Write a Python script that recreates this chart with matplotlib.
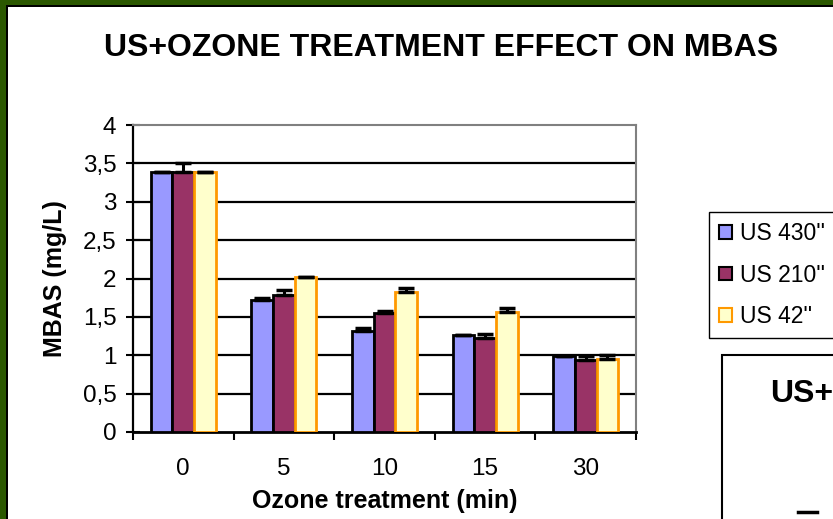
import matplotlib.pyplot as plt
import numpy as np
from matplotlib.patches import Rectangle, Patch
from matplotlib.lines import Line2D

plt.rcParams['font.family'] = ['Liberation Sans', 'DejaVu Sans']

categories = ['0', '5', '10', '15', '30']
series = ["US 430''", "US 210''", "US 42''"]
us430 = [3.39, 1.72, 1.32, 1.26, 0.99]
us210 = [3.39, 1.78, 1.55, 1.23, 0.94]
us42 = [3.39, 2.02, 1.82, 1.56, 0.95]
err430 = [0.0, 0.03, 0.03, 0.0, 0.0]
err210 = [0.12, 0.07, 0.03, 0.05, 0.05]
err42 = [0.0, 0.0, 0.06, 0.06, 0.05]
yticks = [0, 0.5, 1, 1.5, 2, 2.5, 3, 3.5, 4]
ylabels = ['0', '0,5', '1', '1,5', '2', '2,5', '3', '3,5', '4']

faces = ['#9999FF', '#993366', '#FFFFCC']
edges = ['black', 'black', '#FF9900']

W, H = 833, 519
fig = plt.figure(figsize=(W / 100, H / 100), dpi=100)

def px(x0, y0, w, h, **kw):
    # rectangle in pixel coords, y from top
    fig.patches.append(Rectangle((x0 / W, 1 - (y0 + h) / H), w / W, h / H,
                                 transform=fig.transFigure, figure=fig, **kw))

# green frame with a black inner line
px(0, 0, W, 7, facecolor='#2B5800', edgecolor='none')
px(0, 0, 8, H, facecolor='#2B5800', edgecolor='none')
px(6, 5, 2, H, facecolor='black', edgecolor='none')
px(6, 5, W, 2, facecolor='black', edgecolor='none')

ax = fig.add_axes([133 / W, (H - 432) / H, (636 - 133) / W, (432 - 125) / H])
x = np.arange(len(categories))
bw = 0.215
vals = [us430, us210, us42]
errs = [err430, err210, err42]
for i in range(3):
    pos = x + (i - 1) * bw
    ax.bar(pos, vals[i], bw, color=faces[i], edgecolor=edges[i], linewidth=2, zorder=3)
    ax.errorbar(pos, vals[i], yerr=[np.zeros(5), errs[i]], fmt='none', ecolor='black',
                elinewidth=2.2, capsize=6, capthick=2.5, zorder=4)

ax.set_xlim(-0.5, len(categories) - 0.5)
ax.set_ylim(0, 4)
ax.set_yticks(yticks)
ax.set_yticklabels(ylabels, fontsize=17.5)
ax.set_xticks(np.arange(-0.5, len(categories), 1.0))
ax.set_xticklabels([])
ax.set_xticks(x, minor=True)
ax.set_xticklabels(categories, minor=True, fontsize=17.5)
ax.tick_params(axis='x', which='minor', length=0, pad=19)
ax.tick_params(axis='x', which='major', direction='out', length=6, width=1.5)
ax.tick_params(axis='y', direction='inout', length=10, width=1.5, pad=7)
for yv in yticks[1:-1]:
    ax.axhline(yv, color='black', lw=1.6, zorder=1)
ax.spines['left'].set_linewidth(1.6)
ax.spines['bottom'].set_linewidth(2)
ax.spines['top'].set_color('#808080')
ax.spines['right'].set_color('#808080')
ax.spines['top'].set_linewidth(1.5)
ax.spines['right'].set_linewidth(1.5)
ax.set_xlabel('Ozone treatment (min)', fontsize=18, fontweight='bold', labelpad=6)
ax.set_ylabel('MBAS (mg/L)', fontsize=18, fontweight='bold', labelpad=11)

fig.text(441 / W, 1 - 48 / H, 'US+OZONE TREATMENT EFFECT ON MBAS', ha='center', va='center',
         fontsize=23, fontweight='bold')

handles = [Patch(facecolor=faces[i], edgecolor=edges[i], linewidth=1.5) for i in range(3)]
fig.legend(handles, series, loc='upper left', bbox_to_anchor=(709 / W, 1 - 212 / H),
           fontsize=16.5, frameon=True, fancybox=False, edgecolor='black', framealpha=1,
           handlelength=0.55, handleheight=0.55, handletextpad=0.35, labelspacing=0.8,
           borderpad=0.45, borderaxespad=0)

# second chart, cut off at the bottom right
px(722, 355, W, H, facecolor='white', edgecolor='black', linewidth=1.5)
fig.text(770 / W, 1 - 394 / H, 'US+', ha='left', va='center',
         fontsize=23, fontweight='bold')
fig.lines.append(Line2D([798 / W, 817 / W], [1 - 512 / H, 1 - 512 / H], transform=fig.transFigure,
                        color='black', lw=2.5))

fig.savefig('out.png', dpi=100)
